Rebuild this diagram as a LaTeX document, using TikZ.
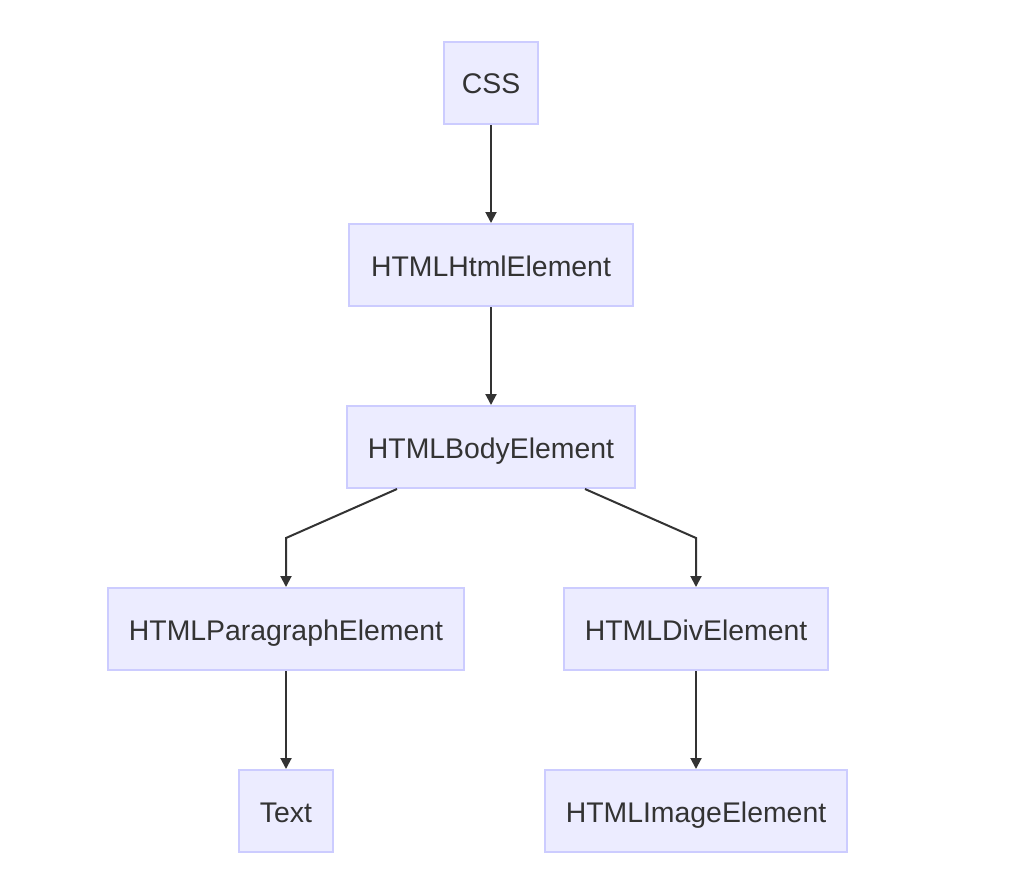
\documentclass[tikz,border=0pt]{standalone}
\usepackage{fontspec}
\setmainfont{Liberation Sans}
\usetikzlibrary{arrows.meta}
\definecolor{boxfill}{HTML}{ECECFF}
\definecolor{boxline}{HTML}{CCCCFF}
\definecolor{ink}{HTML}{333333}
\begin{document}
\begin{tikzpicture}[x=1pt,y=-1pt,
  box/.style={draw=boxline,fill=boxfill,line width=2pt,minimum height=82pt,inner sep=0pt,
    text height=22pt,text depth=0pt,
    text=ink,font=\fontsize{28.4}{33}\selectfont},
  conn/.style={draw=ink,line width=2pt,-{Triangle[length=11pt,width=11pt]}}]
\useasboundingbox (0,0) rectangle (1032,888);
\node[box,minimum width=94pt] (css) at (491,83) {CSS};
\node[box,minimum width=284pt] (html) at (491,265) {HTMLHtmlElement};
\node[box,minimum width=288pt] (body) at (491,447) {HTMLBodyElement};
\node[box,minimum width=356pt] (para) at (286,629) {HTMLParagraphElement};
\node[box,minimum width=264pt] (div) at (696,629) {HTMLDivElement};
\node[box,minimum width=94pt] (text) at (286,811) {Text};
\node[box,minimum width=302pt] (img) at (696,811) {HTMLImageElement};
\coordinate (bl) at (286,538);
\coordinate (br) at (696,538);
\draw[conn] (css) -- (html);
\draw[conn] (html) -- (body);
\draw[conn] ([xshift=-94pt]body.south) -- (bl) -- (para.north);
\draw[conn] ([xshift=94pt]body.south) -- (br) -- (div.north);
\draw[conn] (para) -- (text);
\draw[conn] (div) -- (img);
\end{tikzpicture}
\end{document}
